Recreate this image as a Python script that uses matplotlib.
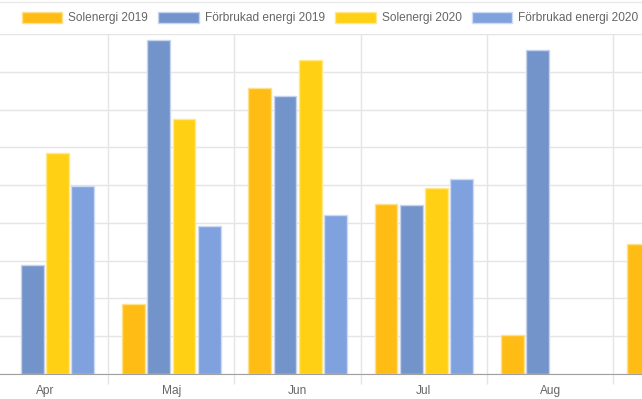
import numpy as np
import matplotlib
matplotlib.use("Agg")
import matplotlib.pyplot as plt
from matplotlib.patches import Patch

# Dados (kWh, escala aproximada)
manader = ["Apr", "Maj", "Jun", "Jul", "Aug", "Sep"]
solenergi_2019 = [np.nan, 185, 756, 450, 103, 344]
forbrukad_2019 = [288, 883, 736, 447, 858, np.nan]
solenergi_2020 = [585, 675, 831, 492, np.nan, np.nan]
forbrukad_2020 = [498, 391, 421, 516, np.nan, np.nan]

serier = ["Solenergi 2019", "Förbrukad energi 2019", "Solenergi 2020", "Förbrukad energi 2020"]
farger = ["#FFBC14", "#7394CB", "#FFD014", "#7FA2DF"]
kantfarger = ["#FFE08A", "#C5D3EC", "#FFE88A", "#CCDAF3"]

plt.rcParams["font.family"] = ["Liberation Sans", "DejaVu Sans"]

fig = plt.figure(figsize=(6.42, 3.99), dpi=100)
ax = fig.add_axes([0, 25 / 399, 1, 340 / 399])

x = np.arange(len(manader))
bredd = 0.2
data = [solenergi_2019, forbrukad_2019, solenergi_2020, forbrukad_2020]
for i, varden in enumerate(data):
    ax.bar(x + (i - 1.5) * bredd, varden, width=bredd * 0.9, color=farger[i],
           edgecolor=kantfarger[i], linewidth=1, zorder=3)

# Grade horizontal
ax.set_yticks(np.arange(0, 1000, 100))
ax.yaxis.grid(True, color="#e5e5e5", linewidth=1, zorder=0)
ax.tick_params(axis="y", length=0, labelleft=False)

# Rotulos no centro, linhas verticais entre as categorias
ax.set_xticks(x)
ax.set_xticklabels(manader, fontsize=8.6, color="#666666")
ax.set_xticks(x[:-1] + 0.5, minor=True)
ax.xaxis.grid(True, which="minor", color="#e5e5e5", linewidth=1, zorder=0)
ax.tick_params(axis="x", which="major", length=0, pad=8)
ax.tick_params(axis="x", which="minor", length=7, color="#e5e5e5", width=1)

# limites depois dos ticks (set_xticks expande a vista)
ax.set_xlim(-0.356, 4.727)
ax.set_ylim(0, 900)

for s in ["top", "left", "right"]:
    ax.spines[s].set_visible(False)
ax.spines["bottom"].set_color("#a0a0a0")
ax.spines["bottom"].set_zorder(4)

# linha fina no topo da imagem
fig.add_artist(plt.Line2D([0, 1], [1 - 1.5 / 399, 1 - 1.5 / 399], color="#e8e8e8", linewidth=1))

handles = [Patch(facecolor=farger[i], edgecolor=kantfarger[i], linewidth=1) for i in range(4)]
fig.legend(handles, serier, loc="center", bbox_to_anchor=(0.514, 0.955), ncol=4,
           frameon=False, fontsize=8.6, labelcolor="#666666", handlelength=3.4,
           handleheight=1.05, handletextpad=0.5, columnspacing=0.85)

fig.savefig("out.png", dpi=100)
